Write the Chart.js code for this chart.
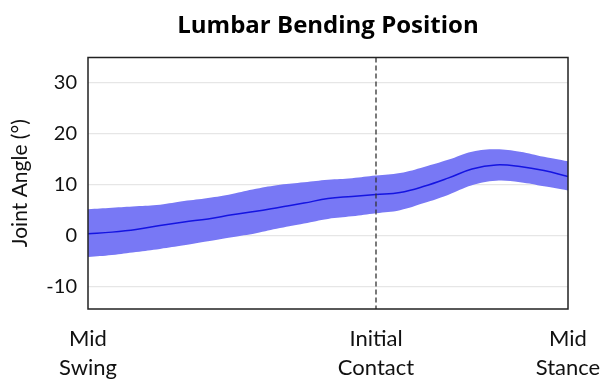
<!DOCTYPE html>
<html>
<head>
<meta charset="utf-8">
<script src="https://cdn.jsdelivr.net/npm/chart.js@4/dist/chart.umd.min.js"></script>
<style>
  html, body { margin: 0; padding: 0; background: #fff; }
  #wrap { width: 600px; height: 382px; }
</style>
</head>
<body>
<div id="wrap"><canvas id="c" width="600" height="382"></canvas></div>
<script>
// Gait phase (% of the plotted window, Mid Swing -> Mid Stance)
const phase = [0, 5, 10, 15, 20, 25, 30, 35, 40, 45, 50, 55, 60, 65, 70, 75, 80, 85, 90, 95, 100];
// Mean lumbar bending angle (deg)
const meanAngle = [0.4, 0.7, 1.2, 2.0, 2.7, 3.3, 4.1, 4.8, 5.6, 6.4, 7.3, 7.7, 8.1, 8.5, 9.7, 11.3, 13.1, 13.9, 13.6, 12.8, 11.6];
// Upper and lower edge of the variability band (deg)
const upperAngle = [5.2, 5.5, 5.8, 6.1, 6.8, 7.4, 8.2, 9.2, 10.0, 10.5, 11.0, 11.3, 11.8, 12.3, 13.5, 14.9, 16.5, 17.0, 16.5, 15.5, 14.6];
const lowerAngle = [-4.2, -3.8, -3.2, -2.6, -1.9, -1.1, -0.3, 0.5, 1.5, 2.4, 3.3, 3.8, 4.4, 5.0, 6.4, 8.0, 9.9, 10.8, 10.5, 9.7, 8.9];
// Gait events marked on the x axis
const eventPos = [0, 60, 100];
const eventLabels = [["Mid", "Swing"], ["Initial", "Contact"], ["Mid", "Stance"]];
const contactPos = 60;
// Y axis tick values
const yTicks = [-10, 0, 10, 20, 30];

const FONT = "Lato, 'Open Sans', sans-serif";

const toXY = (ys) => phase.map((x, i) => ({ x: x, y: ys[i] }));

// Frame around the plot area and the dashed initial-contact marker
const framePlugin = {
  id: 'frame',
  afterDatasetsDraw(chart) {
    const { ctx, chartArea: a, scales } = chart;
    const xc = scales.x.getPixelForValue(contactPos);
    ctx.save();
    ctx.strokeStyle = '#333';
    ctx.lineWidth = 1.3;
    ctx.setLineDash([5, 3]);
    ctx.beginPath();
    ctx.moveTo(xc, a.top);
    ctx.lineTo(xc, a.bottom);
    ctx.stroke();
    ctx.setLineDash([]);
    ctx.strokeStyle = '#222';
    ctx.lineWidth = 1.5;
    ctx.strokeRect(a.left, a.top, a.right - a.left, a.bottom - a.top);
    ctx.restore();
  }
};

new Chart(document.getElementById('c'), {
  type: 'line',
  data: {
    datasets: [
      {
        label: 'Mean',
        data: toXY(meanAngle),
        borderColor: 'rgb(20,20,225)',
        borderWidth: 1.5,
        pointRadius: 0,
        fill: false,
        tension: 0.4,
        order: 0
      },
      {
        label: 'Upper',
        data: toXY(upperAngle),
        borderWidth: 0,
        pointRadius: 0,
        backgroundColor: 'rgb(120,120,245)',
        fill: '+1',
        tension: 0.4,
        order: 1
      },
      {
        label: 'Lower',
        data: toXY(lowerAngle),
        borderWidth: 0,
        pointRadius: 0,
        fill: false,
        tension: 0.4,
        order: 2
      }
    ]
  },
  options: {
    responsive: false,
    animation: false,
    layout: { padding: 0 },
    plugins: {
      legend: { display: false },
      tooltip: { enabled: false },
      title: {
        display: true,
        fullSize: false,
        text: 'Lumbar Bending Position',
        color: '#000',
        font: { family: "'Open Sans', sans-serif", size: 24, weight: 'bold', lineHeight: 1.2 },
        padding: { top: 12, bottom: 16.7 }
      }
    },
    scales: {
      x: {
        type: 'linear',
        min: 0,
        max: 100,
        afterBuildTicks(scale) { scale.ticks = eventPos.map(v => ({ value: v })); },
        afterFit(scale) {
          scale.height = 73;
          scale.paddingLeft = 0;
          scale.paddingRight = 32;
        },
        grid: { display: false, drawTicks: false },
        border: { display: false },
        ticks: {
          autoSkip: false,
          maxRotation: 0,
          padding: 15,
          color: '#111',
          font: { family: FONT, size: 22, lineHeight: 1.33 },
          callback(value) {
            const i = eventPos.indexOf(value);
            return i >= 0 ? eventLabels[i] : '';
          }
        }
      },
      y: {
        min: -14.4,
        max: 35,
        afterBuildTicks(scale) { scale.ticks = yTicks.map(v => ({ value: v })); },
        afterFit(scale) { scale.width = 88; },
        grid: { color: '#e6e6e6', lineWidth: 1.2, drawTicks: false },
        border: { display: false },
        ticks: {
          padding: 11,
          color: '#111',
          font: { family: FONT, size: 20 }
        },
        title: {
          display: true,
          text: 'Joint Angle (°)',
          color: '#111',
          font: { family: FONT, size: 21 },
          padding: { top: 8, bottom: 4 }
        }
      }
    }
  },
  plugins: [framePlugin]
});
</script>
</body>
</html>
